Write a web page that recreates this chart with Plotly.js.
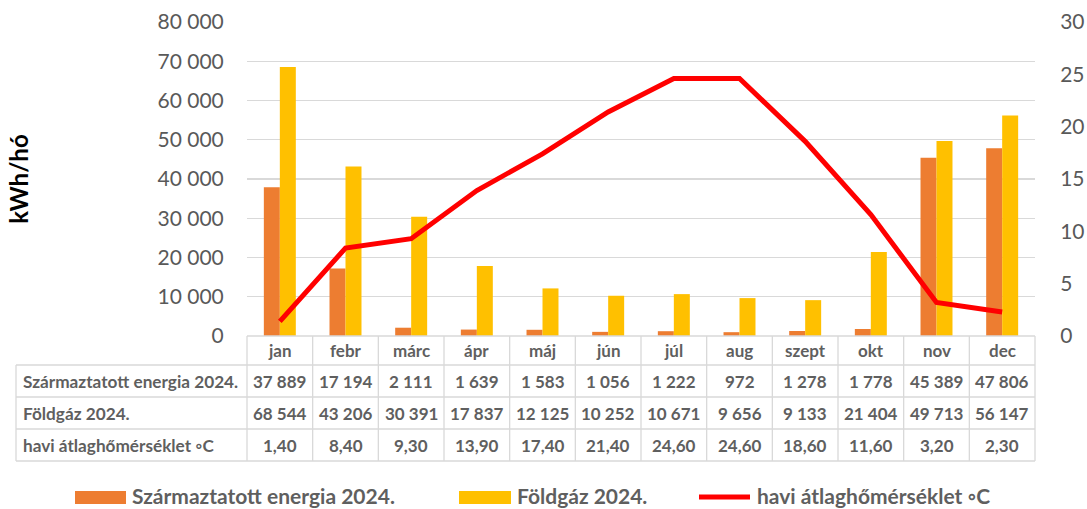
<!DOCTYPE html>
<html>
<head>
<meta charset="utf-8">
<script src="https://cdn.plot.ly/plotly-3.0.1.min.js"></script>
<style>
html,body{margin:0;padding:0;background:#fff;}
#chart{width:1087px;height:509px;}
</style>
</head>
<body>
<div id="chart"></div>
<script>
// ---- data ----
const months = ["jan","febr","márc","ápr","máj","jún","júl","aug","szept","okt","nov","dec"];
const energy = [37889,17194,2111,1639,1583,1056,1222,972,1278,1778,45389,47806];
const gas = [68544,43206,30391,17837,12125,10252,10671,9656,9133,21404,49713,56147];
const temp = [1.40,8.40,9.30,13.90,17.40,21.40,24.60,24.60,18.60,11.60,3.20,2.30];
const seriesNames = ["Származtatott energia 2024.","Földgáz 2024.","havi átlaghőmérséklet ◦C"];
const yTitle = "kWh/hó";

// ---- styling ----
const W = 1087, H = 509;
const M = {l:247, r:52, t:22, b:173};
const PW = W - M.l - M.r, PH = H - M.t - M.b;
const FONT = "Lato, 'Open Sans', sans-serif";
const GREY = "#5f5f5f";
const GRID = "#d9d9d9";
const colors = ["#ED7D31","#FFC000","#FF0000"];

const px2x = x => (x - M.l) / PW;
const py2y = y => (M.t + PH - y) / PH;

function fmtInt(v){ return String(v).replace(/\B(?=(\d{3})+(?!\d))/g, " "); }
function fmtDec(v){ return v.toFixed(2).replace(".", ","); }

const traces = [
  {type:"bar", x:months, y:energy, name:seriesNames[0], marker:{color:colors[0]}, hoverinfo:"x+y"},
  {type:"bar", x:months, y:gas, name:seriesNames[1], marker:{color:colors[1]}, hoverinfo:"x+y"},
  {type:"scatter", mode:"lines", x:months, y:temp, name:seriesNames[2], yaxis:"y2",
   line:{color:colors[2], width:5}}
];

const shapes = [];
const annotations = [];
const n = months.length;
const rowY = [336, 365, 397, 429, 461];
const leftX = px2x(16);
const lineStyle = {color:GRID, width:1.3};

// horizontal table lines
shapes.push({type:"line", xref:"paper", yref:"paper", x0:0, x1:1, y0:py2y(rowY[0]), y1:py2y(rowY[0]), line:lineStyle});
for (let r = 1; r < rowY.length; r++) {
  shapes.push({type:"line", xref:"paper", yref:"paper", x0:leftX, x1:1, y0:py2y(rowY[r]), y1:py2y(rowY[r]), line:lineStyle});
}
// vertical lines
for (let i = 0; i <= n; i++) {
  shapes.push({type:"line", xref:"paper", yref:"paper", x0:i/n, x1:i/n, y0:py2y(rowY[0]), y1:py2y(rowY[4]), line:lineStyle});
}
shapes.push({type:"line", xref:"paper", yref:"paper", x0:leftX, x1:leftX, y0:py2y(rowY[1]), y1:py2y(rowY[4]), line:lineStyle});

const cellFont = {family:FONT, size:17, color:GREY, weight:"bold"};
const labelFont = {family:FONT, size:17.2, color:GREY, weight:"bold"};
const rowsData = [energy.map(fmtInt), gas.map(fmtInt), temp.map(fmtDec)];
months.forEach((m, i) => {
  annotations.push({xref:"x", yref:"paper", x:m, y:py2y((rowY[0]+rowY[1])/2), text:m, showarrow:false,
    font:cellFont, xanchor:"center", yanchor:"middle"});
  rowsData.forEach((row, r) => {
    annotations.push({xref:"x", yref:"paper", x:m, y:py2y((rowY[r+1]+rowY[r+2])/2), text:row[i], showarrow:false,
      font:cellFont, xanchor:"center", yanchor:"middle"});
  });
});
seriesNames.forEach((s, r) => {
  annotations.push({xref:"paper", yref:"paper", x:px2x(21), y:py2y((rowY[r+1]+rowY[r+2])/2), text:s, showarrow:false,
    font:labelFont, xanchor:"left", yanchor:"middle"});
});

// custom legend
const legFont = {family:FONT, size:21, color:GREY, weight:"bold"};
const legY = 497;
shapes.push({type:"rect", xref:"paper", yref:"paper", x0:px2x(75), x1:px2x(126), y0:py2y(491), y1:py2y(504), fillcolor:colors[0], line:{width:0}});
shapes.push({type:"rect", xref:"paper", yref:"paper", x0:px2x(459), x1:px2x(511), y0:py2y(491), y1:py2y(504), fillcolor:colors[1], line:{width:0}});
shapes.push({type:"line", xref:"paper", yref:"paper", x0:px2x(699), x1:px2x(750), y0:py2y(legY), y1:py2y(legY), line:{color:colors[2], width:5}});
[[131,0],[516,1],[756,2]].forEach(([x, k]) => {
  annotations.push({xref:"paper", yref:"paper", x:px2x(x), y:py2y(495), text:seriesNames[k], showarrow:false,
    font:legFont, xanchor:"left", yanchor:"middle", borderpad:0});
});

const tickFont = {family:FONT, size:21, color:"#595959"};
const layout = {
  width:W, height:H,
  margin:M,
  paper_bgcolor:"#fff", plot_bgcolor:"#fff",
  separators:", ",
  showlegend:false,
  barmode:"group", bargap:0.513, bargroupgap:0,
  font:{family:FONT, color:GREY},
  xaxis:{type:"category", range:[-0.5, n-0.5], showticklabels:false, showgrid:false, zeroline:false, ticks:"", fixedrange:true},
  yaxis:{range:[0,80000], dtick:10000, tickformat:",d", showgrid:true, gridcolor:GRID, gridwidth:1.3, zeroline:false,
    ticks:"outside", ticklen:18, tickcolor:"rgba(0,0,0,0)", tickfont:tickFont, automargin:false,
    title:{text:yTitle, font:{family:FONT, size:24, color:"#000", weight:"bold"}, standoff:122}},
  yaxis2:{range:[0,30], dtick:5, overlaying:"y", side:"right", showgrid:false, zeroline:false,
    ticks:"outside", ticklen:20, tickcolor:"rgba(0,0,0,0)", tickfont:tickFont, automargin:false},
  shapes:shapes,
  annotations:annotations
};

Plotly.newPlot("chart", traces, layout, {displayModeBar:false, staticPlot:true});
</script>
</body>
</html>
